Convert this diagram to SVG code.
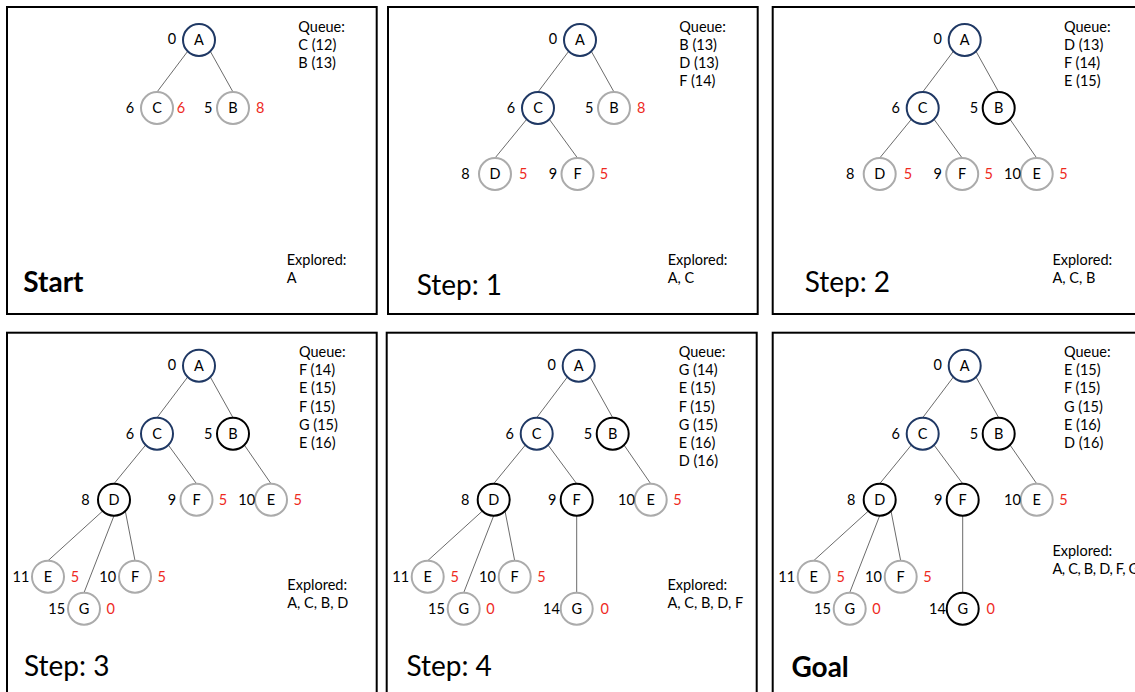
<svg xmlns="http://www.w3.org/2000/svg" width="1135" height="692" viewBox="0 0 1135 692">
<style>
  text { font-family: Lato, "Liberation Sans", sans-serif; font-size: 14.5px; fill: #000; }
  .frame { fill: none; stroke: #000; stroke-width: 2; }
  .edge { stroke: #5a5a5a; stroke-width: 0.9; fill: none; }
  .node circle { fill: #fff; stroke-width: 2; }
  .nav circle { stroke: #1f3864; }
  .blk circle { stroke: #000; }
  .gry circle { stroke: #ababab; }
  .node text { text-anchor: middle; }
  .h { fill: #ee2a1e; }
  .title { font-size: 28px; }
  .bold { font-weight: 700; }
  .tight { letter-spacing: -0.35px; }
</style>
<rect width="1135" height="692" fill="#fff"/>

<!-- Panel: Start -->
<g id="panel-start" transform="translate(7,7)">
  <rect class="frame" x="0" y="0" width="369.7" height="307"/>
  <g id="p1-connectors">
    <path class="edge" d="M180.7,44.3 L150,85"/>
    <path class="edge" d="M203.3,44.3 L226,85"/>
  </g>
  <g id="p1-A" class="node nav"><circle cx="192" cy="33" r="16"/><text x="192" y="38">A</text><text x="165" y="37">0</text></g>
  <g id="p1-C" class="node gry"><circle cx="150" cy="101" r="16"/><text x="150" y="106">C</text><text x="123" y="106">6</text><text class="h" x="174" y="106">6</text></g>
  <g id="p1-B" class="node gry"><circle cx="226" cy="101" r="16"/><text x="226" y="106">B</text><text x="201.3" y="106">5</text><text class="h" x="253.3" y="106">8</text></g>
  <g id="p1-queue"><text x="291.3" y="24.5">Queue:</text><text x="291.3" y="42.8">C (12)</text><text x="291.3" y="61.1">B (13)</text></g>
  <g id="p1-explored"><text x="279.7" y="258">Explored:</text><text x="279.7" y="276.3">A</text></g>
  <text class="title bold" x="16.3" y="284.5">Start</text>
</g>

<!-- Panel: Step 1 -->
<g id="panel-step1" transform="translate(388,7)">
  <rect class="frame" x="0" y="0" width="369.7" height="307"/>
  <g id="p2-connectors">
    <path class="edge" d="M180.7,44.3 L150,85"/>
    <path class="edge" d="M203.3,44.3 L226,85"/>
    <path class="edge" d="M138.7,112.3 L107,151"/>
    <path class="edge" d="M161.3,112.3 L189.5,151"/>
  </g>
  <g id="p2-A" class="node nav"><circle cx="192" cy="33" r="16"/><text x="192" y="38">A</text><text x="165" y="37">0</text></g>
  <g id="p2-C" class="node nav"><circle cx="150" cy="101" r="16"/><text x="150" y="106">C</text><text x="123" y="106">6</text></g>
  <g id="p2-B" class="node gry"><circle cx="226" cy="101" r="16"/><text x="226" y="106">B</text><text x="201.3" y="106">5</text><text class="h" x="253.3" y="106">8</text></g>
  <g id="p2-D" class="node gry"><circle cx="107" cy="167" r="16"/><text x="107" y="172">D</text><text x="77.5" y="172">8</text><text class="h" x="135.3" y="172">5</text></g>
  <g id="p2-F" class="node gry"><circle cx="189.5" cy="167" r="16"/><text x="189.5" y="172">F</text><text x="165" y="172">9</text><text class="h" x="216" y="172">5</text></g>
  <g id="p2-queue"><text x="291.3" y="24.5">Queue:</text><text x="291.3" y="42.8">B (13)</text><text x="291.3" y="61.1">D (13)</text><text x="291.3" y="79.4">F (14)</text></g>
  <g id="p2-explored"><text x="279.7" y="258">Explored:</text><text x="279.7" y="276.3">A, C</text></g>
  <text class="title" x="28.7" y="288">Step: 1</text>
</g>

<!-- Panel: Step 2 -->
<g id="panel-step2" transform="translate(772.7,7)">
  <rect class="frame" x="0" y="0" width="400" height="307"/>
  <g id="p3-connectors">
    <path class="edge" d="M180.7,44.3 L150,85"/>
    <path class="edge" d="M203.3,44.3 L226,85"/>
    <path class="edge" d="M138.7,112.3 L107,151"/>
    <path class="edge" d="M161.3,112.3 L189.5,151"/>
    <path class="edge" d="M237.3,112.3 L264,151"/>
  </g>
  <g id="p3-A" class="node nav"><circle cx="192" cy="33" r="16"/><text x="192" y="38">A</text><text x="165" y="37">0</text></g>
  <g id="p3-C" class="node nav"><circle cx="150" cy="101" r="16"/><text x="150" y="106">C</text><text x="123" y="106">6</text></g>
  <g id="p3-B" class="node blk"><circle cx="226" cy="101" r="16"/><text x="226" y="106">B</text><text x="201.3" y="106">5</text></g>
  <g id="p3-D" class="node gry"><circle cx="107" cy="167" r="16"/><text x="107" y="172">D</text><text x="77.5" y="172">8</text><text class="h" x="135.3" y="172">5</text></g>
  <g id="p3-F" class="node gry"><circle cx="189.5" cy="167" r="16"/><text x="189.5" y="172">F</text><text x="165" y="172">9</text><text class="h" x="216" y="172">5</text></g>
  <g id="p3-E" class="node gry"><circle cx="264" cy="167" r="16"/><text x="264" y="172">E</text><text x="239.7" y="172">10</text><text class="h" x="290.8" y="172">5</text></g>
  <g id="p3-queue"><text x="291.3" y="24.5">Queue:</text><text x="291.3" y="42.8">D (13)</text><text x="291.3" y="61.1">F (14)</text><text x="291.3" y="79.4">E (15)</text></g>
  <g id="p3-explored"><text x="279.7" y="258">Explored:</text><text x="279.7" y="276.3">A, C, B</text></g>
  <text class="title" x="32" y="284.7">Step: 2</text>
</g>

<!-- Panel: Step 3 -->
<g id="panel-step3" transform="translate(7,332.7)">
  <rect class="frame" x="0" y="0" width="369.7" height="400"/>
  <g id="p4-connectors">
    <path class="edge" d="M180.7,44.3 L150,85"/>
    <path class="edge" d="M203.3,44.3 L226,85"/>
    <path class="edge" d="M138.7,112.3 L107,151"/>
    <path class="edge" d="M161.3,112.3 L189.5,151"/>
    <path class="edge" d="M237.3,112.3 L264,151"/>
    <path class="edge" d="M95.7,178.3 L41,228"/>
    <path class="edge" d="M107,183 L77,260"/>
    <path class="edge" d="M118.3,178.3 L128,228"/>
  </g>
  <g id="p4-A" class="node nav"><circle cx="192" cy="33" r="16"/><text x="192" y="38">A</text><text x="165" y="37">0</text></g>
  <g id="p4-C" class="node nav"><circle cx="150" cy="101" r="16"/><text x="150" y="106">C</text><text x="123" y="106">6</text></g>
  <g id="p4-B" class="node blk"><circle cx="226" cy="101" r="16"/><text x="226" y="106">B</text><text x="201.3" y="106">5</text></g>
  <g id="p4-D" class="node blk"><circle cx="107" cy="167" r="16"/><text x="107" y="172">D</text><text x="78.5" y="172">8</text></g>
  <g id="p4-F" class="node gry"><circle cx="189.5" cy="167" r="16"/><text x="189.5" y="172">F</text><text x="165" y="172">9</text><text class="h" x="216" y="172">5</text></g>
  <g id="p4-E" class="node gry"><circle cx="264" cy="167" r="16"/><text x="264" y="172">E</text><text x="239.7" y="172">10</text><text class="h" x="290.8" y="172">5</text></g>
  <g id="p4-E11" class="node gry"><circle cx="41" cy="244" r="16"/><text x="41" y="249">E</text><text x="14" y="249">11</text><text class="h" x="68" y="249">5</text></g>
  <g id="p4-F10" class="node gry"><circle cx="128" cy="244" r="16"/><text x="128" y="249">F</text><text x="100.7" y="249">10</text><text class="h" x="154.7" y="249">5</text></g>
  <g id="p4-G15" class="node gry"><circle cx="77" cy="276" r="16"/><text x="77" y="281">G</text><text x="49.7" y="281">15</text><text class="h" x="103.7" y="281">0</text></g>
  <g id="p4-queue"><text x="292" y="24">Queue:</text><text x="292" y="42.3">F (14)</text><text x="292" y="60.6">E (15)</text><text x="292" y="78.9">F (15)</text><text x="292" y="97.2">G (15)</text><text x="292" y="115.5">E (16)</text></g>
  <g id="p4-explored"><text x="280.3" y="257.5">Explored:</text><text x="280.3" y="275.8">A, C, B, D</text></g>
  <text class="title" x="17" y="343">Step: 3</text>
</g>

<!-- Panel: Step 4 -->
<g id="panel-step4" transform="translate(386.7,332.7)">
  <rect class="frame" x="0" y="0" width="370" height="400"/>
  <g id="p5-connectors">
    <path class="edge" d="M180.7,44.3 L150,85"/>
    <path class="edge" d="M203.3,44.3 L226,85"/>
    <path class="edge" d="M138.7,112.3 L107,151"/>
    <path class="edge" d="M161.3,112.3 L190,151"/>
    <path class="edge" d="M237.3,112.3 L264,151"/>
    <path class="edge" d="M95.7,178.3 L41,228"/>
    <path class="edge" d="M107,183 L77,260"/>
    <path class="edge" d="M118.3,178.3 L128,228"/>
    <path class="edge" d="M190,183 L190,260"/>
  </g>
  <g id="p5-A" class="node nav"><circle cx="192" cy="33" r="16"/><text x="192" y="38">A</text><text x="165" y="37">0</text></g>
  <g id="p5-C" class="node nav"><circle cx="150" cy="101" r="16"/><text x="150" y="106">C</text><text x="123" y="106">6</text></g>
  <g id="p5-B" class="node blk"><circle cx="226" cy="101" r="16"/><text x="226" y="106">B</text><text x="201.3" y="106">5</text></g>
  <g id="p5-D" class="node blk"><circle cx="107" cy="167" r="16"/><text x="107" y="172">D</text><text x="78.5" y="172">8</text></g>
  <g id="p5-F" class="node blk"><circle cx="190" cy="167" r="16"/><text x="190" y="172">F</text><text x="165.5" y="172">9</text></g>
  <g id="p5-E" class="node gry"><circle cx="264" cy="167" r="16"/><text x="264" y="172">E</text><text x="239.7" y="172">10</text><text class="h" x="290.8" y="172">5</text></g>
  <g id="p5-E11" class="node gry"><circle cx="41" cy="244" r="16"/><text x="41" y="249">E</text><text x="14" y="249">11</text><text class="h" x="68" y="249">5</text></g>
  <g id="p5-F10" class="node gry"><circle cx="128" cy="244" r="16"/><text x="128" y="249">F</text><text x="100.7" y="249">10</text><text class="h" x="154.7" y="249">5</text></g>
  <g id="p5-G15" class="node gry"><circle cx="77" cy="276" r="16"/><text x="77" y="281">G</text><text x="49.7" y="281">15</text><text class="h" x="103.7" y="281">0</text></g>
  <g id="p5-G14" class="node gry"><circle cx="190" cy="276" r="16"/><text x="190" y="281">G</text><text x="164.7" y="281">14</text><text class="h" x="218" y="281">0</text></g>
  <g id="p5-queue"><text x="292" y="24">Queue:</text><text x="292" y="42.3">G (14)</text><text x="292" y="60.6">E (15)</text><text x="292" y="78.9">F (15)</text><text x="292" y="97.2">G (15)</text><text x="292" y="115.5">E (16)</text><text x="292" y="133.8">D (16)</text></g>
  <g id="p5-explored"><text x="280.7" y="257.5">Explored:</text><text x="280.7" y="275.8">A, C, B, D, F</text></g>
  <text class="title" x="19.7" y="343">Step: 4</text>
</g>

<!-- Panel: Goal -->
<g id="panel-goal" transform="translate(772.7,332.7)">
  <rect class="frame" x="0" y="0" width="400" height="400"/>
  <g id="p6-connectors">
    <path class="edge" d="M180.7,44.3 L150,85"/>
    <path class="edge" d="M203.3,44.3 L226,85"/>
    <path class="edge" d="M138.7,112.3 L107,151"/>
    <path class="edge" d="M161.3,112.3 L190,151"/>
    <path class="edge" d="M237.3,112.3 L264,151"/>
    <path class="edge" d="M95.7,178.3 L41,228"/>
    <path class="edge" d="M107,183 L77,260"/>
    <path class="edge" d="M118.3,178.3 L128,228"/>
    <path class="edge" d="M190,183 L190,260"/>
  </g>
  <g id="p6-A" class="node nav"><circle cx="192" cy="33" r="16"/><text x="192" y="38">A</text><text x="165" y="37">0</text></g>
  <g id="p6-C" class="node nav"><circle cx="150" cy="101" r="16"/><text x="150" y="106">C</text><text x="123" y="106">6</text></g>
  <g id="p6-B" class="node blk"><circle cx="226" cy="101" r="16"/><text x="226" y="106">B</text><text x="201.3" y="106">5</text></g>
  <g id="p6-D" class="node blk"><circle cx="107" cy="167" r="16"/><text x="107" y="172">D</text><text x="78.5" y="172">8</text></g>
  <g id="p6-F" class="node blk"><circle cx="190" cy="167" r="16"/><text x="190" y="172">F</text><text x="165.5" y="172">9</text></g>
  <g id="p6-E" class="node gry"><circle cx="264" cy="167" r="16"/><text x="264" y="172">E</text><text x="239.7" y="172">10</text><text class="h" x="290.8" y="172">5</text></g>
  <g id="p6-E11" class="node gry"><circle cx="41" cy="244" r="16"/><text x="41" y="249">E</text><text x="14" y="249">11</text><text class="h" x="68" y="249">5</text></g>
  <g id="p6-F10" class="node gry"><circle cx="128" cy="244" r="16"/><text x="128" y="249">F</text><text x="100.7" y="249">10</text><text class="h" x="154.7" y="249">5</text></g>
  <g id="p6-G15" class="node gry"><circle cx="77" cy="276" r="16"/><text x="77" y="281">G</text><text x="49.7" y="281">15</text><text class="h" x="103.7" y="281">0</text></g>
  <g id="p6-G14" class="node blk"><circle cx="190" cy="276" r="16"/><text x="190" y="281">G</text><text x="164.7" y="281">14</text><text class="h" x="218" y="281">0</text></g>
  <g id="p6-queue"><text x="291.3" y="24">Queue:</text><text x="291.3" y="42.3">E (15)</text><text x="291.3" y="60.6">F (15)</text><text x="291.3" y="78.9">G (15)</text><text x="291.3" y="97.2">E (16)</text><text x="291.3" y="115.5">D (16)</text></g>
  <g id="p6-explored"><text x="279.7" y="223">Explored:</text><text class="tight" x="279.7" y="241.3">A, C, B, D, F, G</text></g>
  <text class="title bold" x="18.7" y="344">Goal</text>
</g>
</svg>
